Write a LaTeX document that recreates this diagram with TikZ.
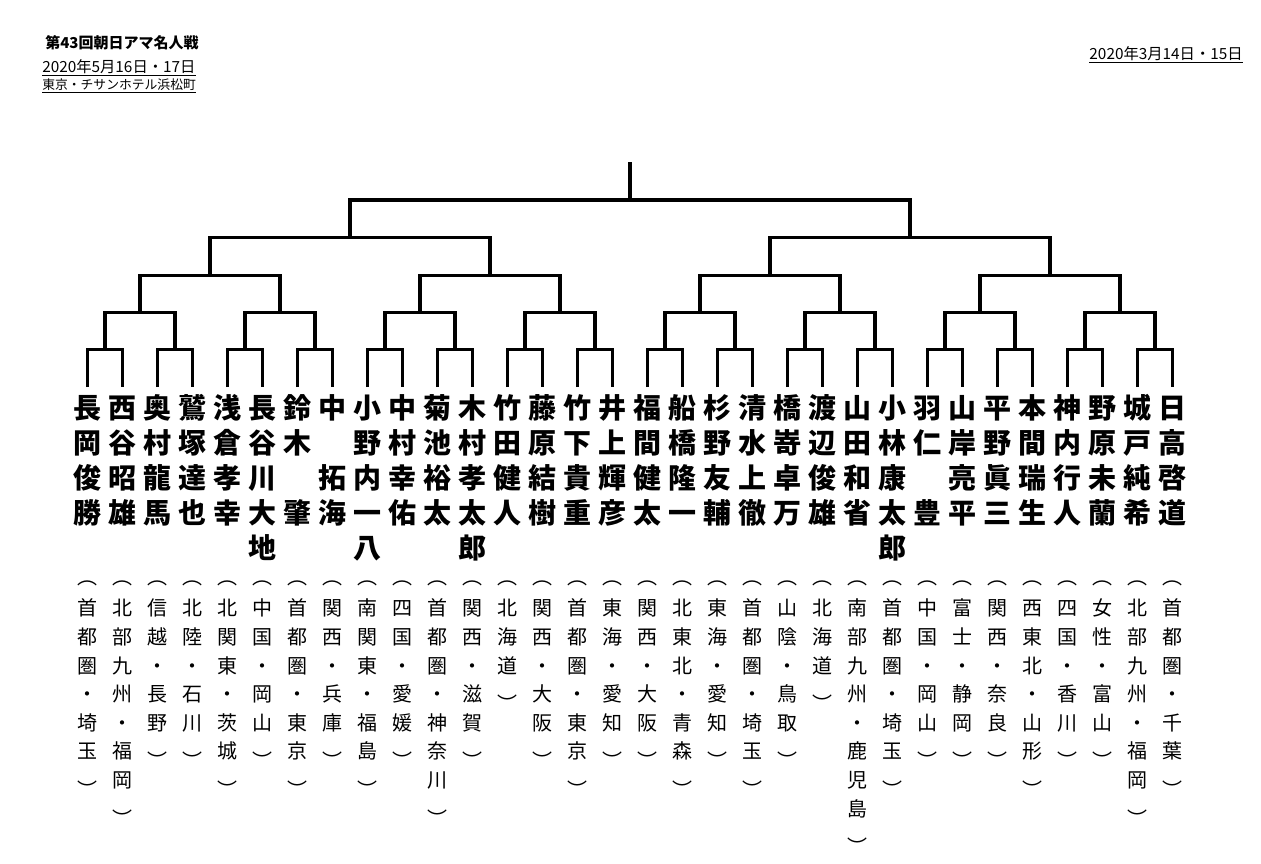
\documentclass[tikz,border=0pt]{standalone}
\usepackage{fontspec}
\newfontfamily\jpfont{Noto Sans CJK JP}
\makeatletter
\def\vt@a#1#2\vt@end{\hbox to 0pt{\hss\strut#1\hss}\if\relax\detokenize{#2}\relax\else\expandafter\vt@b\fi{#2}}
\def\vt@b#1{\vt@a#1\vt@end}
\newcommand\vtext[1]{\vbox{\lineskiplimit=-100pt\lineskip=0pt\expandafter\vt@a#1\vt@end}}
\makeatother
\newcommand\blank{\mbox{}}
\newcommand\op{\raisebox{2pt}{︵}}
\newcommand\cp{\raisebox{-7.5pt}{︶}}
\begin{document}
\begin{tikzpicture}[x=0.75pt,y=-0.75pt,
  br/.style={line width=2.4pt, line join=miter},
  namebox/.style={anchor=north, inner xsep=0pt, inner ysep=5.25pt,
    font=\jpfont\bfseries\fontsize{21pt}{26.25pt}\selectfont},
  regbox/.style={anchor=north, inner sep=0pt,
    font=\jpfont\fontsize{15pt}{21.45pt}\selectfont},
  hdr/.style={inner sep=0pt}]
\fill[white] (0,0) rectangle (1261,864);
\useasboundingbox (0,0) rectangle (1261,864);

% header
\node[hdr, anchor=west, font=\jpfont\bfseries\fontsize{11.25pt}{13pt}\selectfont] (title) at (45,43) {第43回朝日アマ名人戦};
\node[hdr, anchor=west, font=\jpfont\fontsize{11.5pt}{13pt}\selectfont] (date) at (42,68) {\underline{2020年5月16日・17日}};
\node[hdr, anchor=west, font=\jpfont\fontsize{9.6pt}{11pt}\selectfont] (venue) at (42,86) {\underline{東京・チサンホテル浜松町}};
\node[hdr, anchor=east, font=\jpfont\fontsize{11.5pt}{13pt}\selectfont] (date2) at (1243,55) {\underline{2020年3月14日・15日}};

% players
\foreach \i/\nm/\rg in {
 1/長岡俊勝/\op 首都圏・埼玉\cp,
 2/西谷昭雄/\op 北部九州・福岡\cp,
 3/奥村龍馬/\op 信越・長野\cp,
 4/鷲塚達也/\op 北陸・石川\cp,
 5/浅倉孝幸/\op 北関東・茨城\cp,
 6/長谷川大地/\op 中国・岡山\cp,
 7/鈴木\blank 肇/\op 首都圏・東京\cp,
 8/中\blank 拓海/\op 関西・兵庫\cp,
 9/小野内一八/\op 南関東・福島\cp,
 10/中村幸佑/\op 四国・愛媛\cp,
 11/菊池裕太/\op 首都圏・神奈川\cp,
 12/木村孝太郎/\op 関西・滋賀\cp,
 13/竹田健人/\op 北海道\cp,
 14/藤原結樹/\op 関西・大阪\cp,
 15/竹下貴重/\op 首都圏・東京\cp,
 16/井上輝彦/\op 東海・愛知\cp,
 17/福間健太/\op 関西・大阪\cp,
 18/船橋隆一/\op 北東北・青森\cp,
 19/杉野友輔/\op 東海・愛知\cp,
 20/清水上徹/\op 首都圏・埼玉\cp,
 21/橋嵜卓万/\op 山陰・鳥取\cp,
 22/渡辺俊雄/\op 北海道\cp,
 23/山田和省/\op 南部九州・鹿児島\cp,
 24/小林康太郎/\op 首都圏・埼玉\cp,
 25/羽仁\blank 豊/\op 中国・岡山\cp,
 26/山岸亮平/\op 富士・静岡\cp,
 27/平野眞三/\op 関西・奈良\cp,
 28/本間瑞生/\op 西東北・山形\cp,
 29/神内行人/\op 四国・香川\cp,
 30/野原未蘭/\op 女性・富山\cp,
 31/城戸純希/\op 北部九州・福岡\cp,
 32/日高啓道/\op 首都圏・千葉\cp}{
  \pgfmathsetmacro\xx{87.5+35*(\i-1)}
  \node[namebox] (p\i) at (\xx,387) {\vtext{\nm}};
  \node[regbox] (r\i) at (\xx,567) {\vtext{\rg}};
}

% bracket junctions
\foreach \k in {1,...,16} {\pgfmathsetmacro\xx{105+70*(\k-1)} \coordinate (a\k) at (\xx,349.3);}
\foreach \k in {1,...,8} {\pgfmathsetmacro\xx{140+140*(\k-1)} \coordinate (b\k) at (\xx,312.7);}
\foreach \k in {1,...,4} {\pgfmathsetmacro\xx{210+280*(\k-1)} \coordinate (c\k) at (\xx,275.3);}
\coordinate (d1) at (350,237.7);
\coordinate (d2) at (910,237.7);
\coordinate (e) at (630,200);
\coordinate (top) at (630,162);

\foreach \k in {1,...,16} {
  \pgfmathtruncatemacro\ia{2*\k-1}\pgfmathtruncatemacro\ib{2*\k}
  \draw[br] (p\ia.north) |- (a\k) -| (p\ib.north);}
\foreach \k in {1,...,8} {
  \pgfmathtruncatemacro\ia{2*\k-1}\pgfmathtruncatemacro\ib{2*\k}
  \draw[br] (a\ia) |- (b\k) -| (a\ib);}
\foreach \k in {1,...,4} {
  \pgfmathtruncatemacro\ia{2*\k-1}\pgfmathtruncatemacro\ib{2*\k}
  \draw[br] (b\ia) |- (c\k) -| (b\ib);}
\draw[br] (c1) |- (d1) -| (c2);
\draw[br] (c3) |- (d2) -| (c4);
\draw[br] (d1) |- (e) -| (d2);
\draw[br] (e) -- (top);
\end{tikzpicture}
\end{document}
